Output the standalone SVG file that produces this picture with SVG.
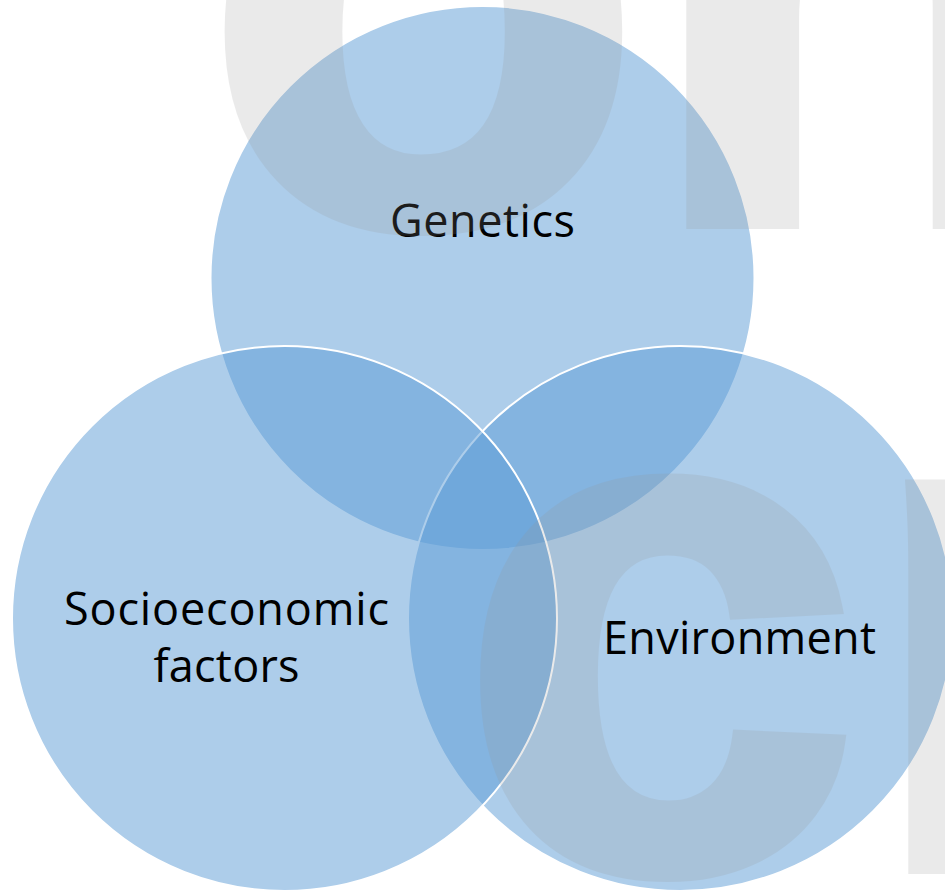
<svg xmlns="http://www.w3.org/2000/svg" width="945" height="893" viewBox="0 0 945 893">
  <style>
    .set { fill: #5B9BD5; fill-opacity: 0.5; stroke: #FFFFFF; stroke-width: 2; }
    .label { font-family: "Open Sans", "Liberation Sans", sans-serif; font-size: 45px; fill: #000000; text-anchor: middle; }
    .mark { font-family: "Liberation Sans", Arial, sans-serif; font-weight: bold; font-size: 720px; fill: #969696; stroke: #969696; stroke-width: 14; stroke-linejoin: miter; }
  </style>

  <rect width="945" height="893" fill="#FFFFFF"/>

  <!-- three overlapping sets -->
  <g id="genetics">
    <circle class="set" cx="482.5" cy="278" r="272"/>
    <text class="label" x="482.5" y="237" textLength="185" lengthAdjust="spacing">Genetics</text>
  </g>

  <g id="environment">
    <circle class="set" cx="680.5" cy="618.5" r="272.5"/>
    <text class="label" x="739.5" y="654" textLength="273" lengthAdjust="spacing">Environment</text>
  </g>

  <g id="socioeconomic">
    <circle class="set" cx="284.5" cy="618.5" r="272.5"/>
    <text class="label" x="226.5" y="624.5" textLength="325" lengthAdjust="spacing">Socioeconomic</text>
    <text class="label" x="226.5" y="682" textLength="146" lengthAdjust="spacing">factors</text>
  </g>

  <!-- translucent watermark lettering over the whole sheet -->
  <g id="watermark" opacity="0.19">
    <text class="mark" x="203.5" y="222">o</text>
    <text class="mark" x="643" y="222">n</text>
    <text class="mark" x="459" y="868" font-size="700">c</text>
    <text class="mark" x="865" y="867">n</text>
  </g>
</svg>
